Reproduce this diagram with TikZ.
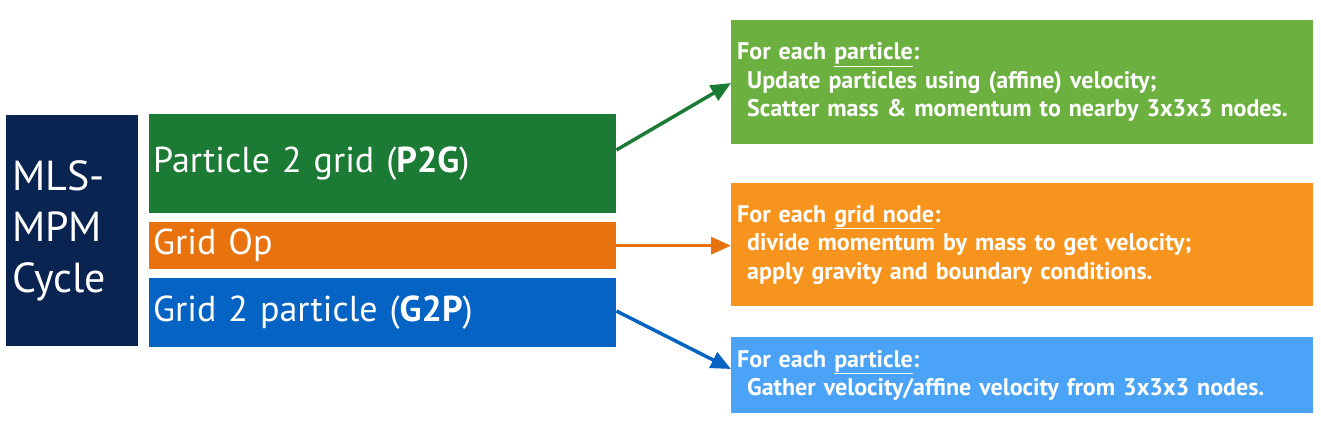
\documentclass[tikz,border=0pt]{standalone}
\usepackage{fontspec}
\setmainfont{PT Sans}
\newfontfamily\leftfont{PT Sans}
\newfontfamily\condfont[WordSpace=0.85]{PT Sans Bold}
\usetikzlibrary{arrows.meta}
\definecolor{navy}{HTML}{0A2452}
\definecolor{dgreen}{HTML}{1B7A33}
\definecolor{dorange}{HTML}{E8730E}
\definecolor{dblue}{HTML}{0563C3}
\definecolor{lgreen}{HTML}{6CB040}
\definecolor{lorange}{HTML}{F7941D}
\definecolor{lblue}{HTML}{4BA3F7}
\tikzset{
  stage/.style={anchor=north west, minimum width=467pt, inner sep=4pt, text=white,
    text width=459pt, align=left, font=\leftfont\fontsize{36}{40}\selectfont},
  info/.style={anchor=north west, minimum width=582pt, inner xsep=6pt, inner ysep=0pt, text=white,
    text width=570pt, align=left, font=\condfont\fontsize{24}{28.5}\selectfont},
  conn/.style={line width=3.5pt, -{Triangle[length=20pt,width=17pt]}}
}
\begin{document}
\begin{tikzpicture}[x=1pt,y=-1pt]
\useasboundingbox (0,0) rectangle (1321,432);
\fill[white] (0,0) rectangle (1321,432);
\node[anchor=north west, fill=navy, minimum width=132pt, minimum height=231pt, inner sep=6pt,
  text width=120pt, align=left, text=white, font=\leftfont\fontsize{42}{51}\selectfont]
  (mls) at (6,115) {MLS-\\MPM\\Cycle};
\node[stage, fill=dgreen, minimum height=99pt] (p2g) at (149,114) {Particle 2 grid (\textbf{P2G})};
\node[stage, fill=dorange, minimum height=47pt] (gop) at (149,222) {Grid Op};
\node[stage, fill=dblue, minimum height=69pt] (g2p) at (149,278) {Grid 2 particle (\textbf{G2P})};
\node[info, fill=lgreen, minimum height=124pt] (ip) at (731,20)
  {For each \underline{particle}:\\\hspace*{10pt}Update particles using (affine) velocity;\\\hspace*{10pt}Scatter mass \& momentum to nearby 3x3x3 nodes.};
\node[info, fill=lorange, minimum height=123pt] (ig) at (731,183)
  {For each \underline{grid node}:\\\hspace*{10pt}divide momentum by mass to get velocity;\\\hspace*{10pt}apply gravity and boundary conditions.};
\node[info, fill=lblue, minimum height=76pt] (ib) at (731,337)
  {For each \underline{particle}:\\\hspace*{10pt}Gather velocity/affine velocity from 3x3x3 nodes.};
\draw[conn, dgreen] (p2g.east |- 0,150) -- (ip.west |- 0,83);
\draw[conn, dorange] (gop.east) -- (ig.west |- gop.east);
\draw[conn, dblue] (g2p.east |- 0,311) -- (ib.west |- 0,369);
\end{tikzpicture}
\end{document}
